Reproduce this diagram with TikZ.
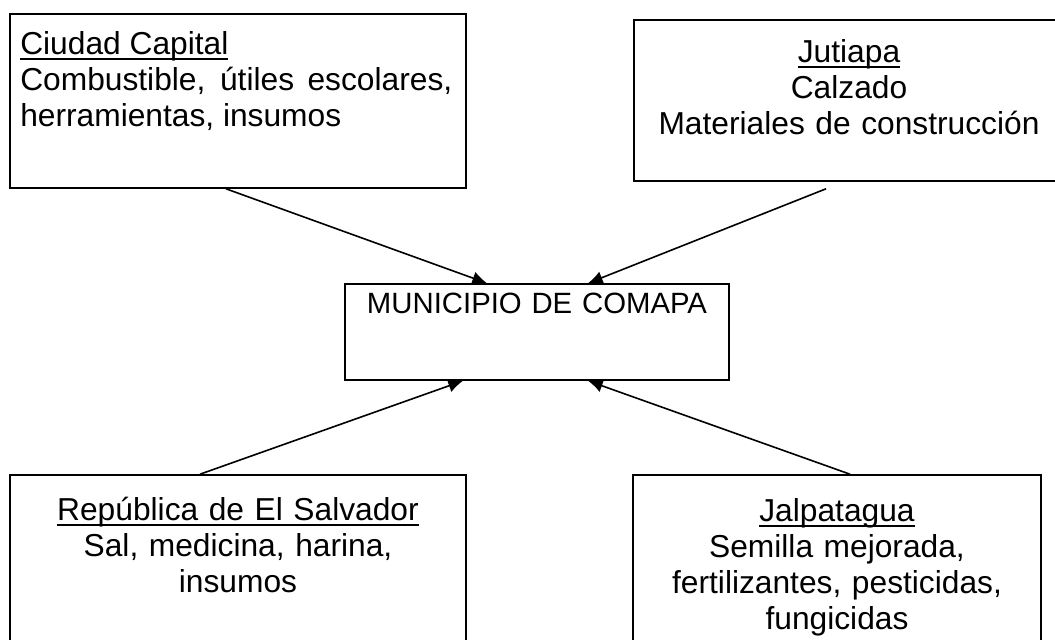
\documentclass[tikz,border=0pt]{standalone}
\usepackage{fontspec}
\setmainfont{Liberation Sans}
\usetikzlibrary{arrows.meta, positioning, fit}

\newcommand{\ulin}[1]{\setbox0\hbox{#1}\rlap{\rule[-4.6pt]{\wd0}{1.3pt}}\box0}

\tikzset{
  caja/.style={draw, line width=1.2pt, inner sep=0pt},
  texto/.style={inner sep=0pt, font=\fontsize{23.8}{27}\selectfont},
  flecha/.style={line width=1.2pt, -{Latex[length=11pt, width=10pt]}}
}

\begin{document}
\begin{tikzpicture}[x=0.75pt, y=-0.75pt]
  \useasboundingbox (0,0) rectangle (1055,639);

  % Boxes
  \node[caja, fit={(10,14) (466,188)}] (capital) {};
  \node[caja, fit={(634,20) (1064,181)}] (jutiapa) {};
  \node[caja, fit={(345,284) (729,380)}] (comapa) {};
  \node[caja, fit={(10,475) (466,650)}] (salvador) {};
  \node[caja, fit={(633,475) (1041,650)}] (jalpa) {};

  % Texts
  \node[texto, text width=324pt, align=justify, anchor=base west] (capitaltxt) at (20,54)
    {\ulin{Ciudad Capital}\\ Combustible, útiles escolares,\linebreak herramientas, insumos};
  \node[texto, text width=330pt, align=center, anchor=base] (jutiapatxt) at (849,62)
    {\ulin{Jutiapa}\\ Calzado\\ Materiales de construcción};
  \node[texto, text width=360pt, align=center, anchor=base, font=\fontsize{22}{27}\selectfont] (comapatxt) at (537,313)
    {MUNICIPIO DE COMAPA};
  \node[texto, text width=400pt, align=center, anchor=base] (salvadortxt) at (238,520)
    {\ulin{República de El Salvador}\\ Sal, medicina, harina,\\ insumos};
  \node[texto, text width=300pt, align=center, anchor=base] (jalpatxt) at (837,521)
    {\ulin{Jalpatagua}\\ Semilla mejorada,\\ fertilizantes, pesticidas,\\ fungicidas};

  % Arrows into the municipality
  \draw[flecha] ([xshift=-9pt]capital.south) -- ([xshift=-37.5pt]comapa.north);
  \draw[flecha] ([xshift=-17.25pt, yshift=-5.25pt]jutiapa.south) -- ([xshift=38.25pt]comapa.north);
  \draw[flecha] ([xshift=-28.5pt]salvador.north) -- ([xshift=-55.5pt]comapa.south);
  \draw[flecha] ([xshift=9.75pt]jalpa.north) -- ([xshift=38.25pt]comapa.south);
\end{tikzpicture}
\end{document}
